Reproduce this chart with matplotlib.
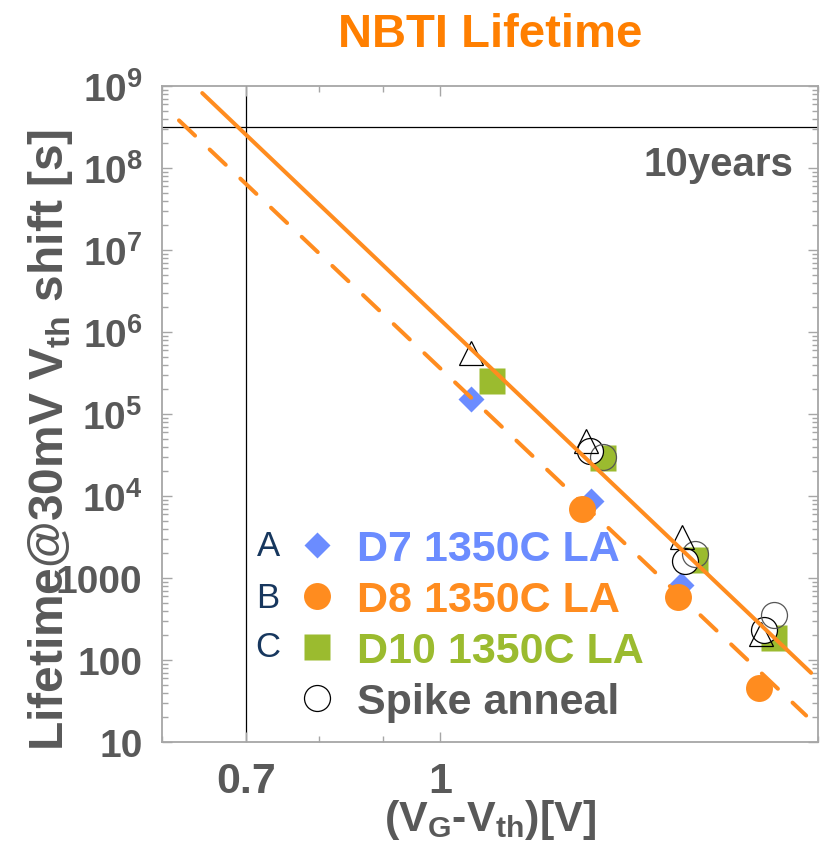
import numpy as np
import matplotlib
matplotlib.use('Agg')
import matplotlib.pyplot as plt
from matplotlib.ticker import LogLocator, NullFormatter, FixedLocator

plt.rcParams['font.family'] = ['Liberation Sans', 'DejaVu Sans']
plt.rcParams['font.weight'] = 'bold'
plt.rcParams['axes.labelweight'] = 'bold'
plt.rcParams['mathtext.fontset'] = 'custom'
plt.rcParams['mathtext.rm'] = 'Liberation Sans:bold'
plt.rcParams['mathtext.it'] = 'Liberation Sans:bold'
plt.rcParams['mathtext.bf'] = 'Liberation Sans:bold'

# ---------------- data ----------------
d7_x = [1.058, 1.318, 1.556]
d7_y = [1.52e5, 8.8e3, 8.3e2]
d8_x = [1.297, 1.547, 1.794]
d8_y = [6.9e3, 5.8e2, 46]
d10_x = [1.099, 1.348, 1.597, 1.846]
d10_y = [2.5e5, 2.9e4, 1.66e3, 184]
tri_x = [1.058, 1.307, 1.557, 1.803]
tri_y = [5.5e5, 4.65e4, 3.16e3, 209]
spike_x = [1.316, 1.566, 1.812]
spike_y = [3.5e4, 1.6e3, 232]
spike2_x = [1.347, 1.596, 1.845]
spike2_y = [3.0e4, 1.95e3, 354]

# power-law fits: y = A * x**n
fit_solid_range = [0.646, 1.975]
fit_solid_A = 1.41e6
fit_solid_n = -14.57
fit_dash_range = [0.619, 1.957]
fit_dash_A = 3.6e5
fit_dash_n = -14.52

ten_years = 3.156e8
ref_vg = 0.7

legend_labels = ['D7 1350C LA', 'D8 1350C LA', 'D10 1350C LA', 'Spike anneal']
legend_letters = ['A', 'B', 'C']
xtick_vals = [0.7, 1.0]
xtick_labels = ['0.7', '1']
xminor_vals = [0.6, 0.8, 0.9, 2.0]
ytick_vals = [10, 100, 1000, 1e4, 1e5, 1e6, 1e7, 1e8, 1e9]
ytick_labels = ['10', '100', '1000', r'$\mathbf{10^{4}}$', r'$\mathbf{10^{5}}$',
                r'$\mathbf{10^{6}}$', r'$\mathbf{10^{7}}$', r'$\mathbf{10^{8}}$',
                r'$\mathbf{10^{9}}$']

# ---------------- style ----------------
BLUE = '#6B8CFF'
ORANGE = '#FF8C1F'
GREEN = '#9BBB2F'
GRAY = '#595959'
NAVY = '#17375E'
SPINE = '#A6A6A6'

fig = plt.figure(figsize=(8.24, 8.54), dpi=100)
ax = fig.add_axes([0.1966, 0.13, 0.7961, 0.7681])
ax.set_xscale('log')
ax.set_yscale('log')
ax.set_xlim(0.6, 2.0)
ax.set_ylim(10, 1e9)

# reference lines
ax.axvline(ref_vg, color='black', lw=0.9, zorder=1)
ax.axhline(ten_years, color='black', lw=0.9, zorder=1)

# markers
h7, = ax.plot(d7_x, d7_y, linestyle='none', marker='D', ms=13.7, color=BLUE,
              mec='none', zorder=2)
h8, = ax.plot(d8_x, d8_y, linestyle='none', marker='o', ms=19.4, color=ORANGE,
              mec='none', zorder=3)
h10, = ax.plot(d10_x, d10_y, linestyle='none', marker='s', ms=19.4, color=GREEN,
               mec='none', zorder=3)
hsp, = ax.plot(spike_x, spike_y, linestyle='none', marker='o', ms=18.7, mfc='white',
               mec='black', mew=0.9, zorder=4)
ax.plot(spike2_x, spike2_y, linestyle='none', marker='o', ms=18.7, mfc='none',
        mec='#555555', mew=0.9, zorder=5)
ax.plot(tri_x, tri_y, linestyle='none', marker='^', ms=17, mfc='none',
        mec='black', mew=0.9, zorder=5)

# fit lines
xs = np.array(fit_solid_range)
ax.plot(xs, fit_solid_A * xs ** fit_solid_n, color=ORANGE, lw=2.9,
        solid_capstyle='round', zorder=6)
xd = np.array(fit_dash_range)
ax.plot(xd, fit_dash_A * xd ** fit_dash_n, color=ORANGE, lw=2.9,
        linestyle=(0, (5.5, 5.0)), dash_capstyle='round', zorder=6)

# ticks
ax.xaxis.set_major_locator(FixedLocator(xtick_vals))
ax.set_xticklabels(xtick_labels)
ax.xaxis.set_minor_locator(FixedLocator(xminor_vals))
ax.xaxis.set_minor_formatter(NullFormatter())
ax.yaxis.set_major_locator(FixedLocator(ytick_vals))
ax.set_yticklabels(ytick_labels)
ax.yaxis.set_minor_locator(LogLocator(base=10, subs=range(2, 10), numticks=30))
ax.yaxis.set_minor_formatter(NullFormatter())

ax.tick_params(which='both', direction='in', top=True, right=True, color=SPINE, width=1.0)
ax.tick_params(which='major', length=7)
ax.tick_params(which='minor', length=4.5)
ax.tick_params(axis='y', labelsize=28, pad=14, labelcolor=GRAY)
ax.tick_params(axis='x', labelsize=31, pad=14, labelcolor=GRAY)
for s in ax.spines.values():
    s.set_color(SPINE)
    s.set_linewidth(1.3)

# labels
ax.set_title('NBTI Lifetime', fontsize=34, color='#FF7F00', fontweight='bold', pad=29)
ax.set_ylabel(r'Lifetime@30mV V$_{th}$ shift [s]', fontsize=34.5, color=GRAY,
              fontweight='bold')
ax.yaxis.set_label_coords(-0.132, 0.462)
ax.set_xlabel(r'(V$_{G}$-V$_{th}$)[V]', fontsize=31, color=GRAY, fontweight='bold')
ax.xaxis.set_label_coords(0.5, -0.084)

ax.text(0.962, 0.864, '10years', transform=ax.transAxes, ha='right', va='baseline',
        fontsize=29, color=GRAY, fontweight='bold')

# legend
leg = ax.legend([h7, h8, h10, hsp], legend_labels, loc='upper left',
                bbox_to_anchor=(0.21, 0.324), frameon=False, fontsize=31,
                handlelength=0.8, handletextpad=0.53, labelspacing=0.25,
                borderpad=0, borderaxespad=0, numpoints=1)
for t, c in zip(leg.get_texts(), [BLUE, ORANGE, GREEN, GRAY]):
    t.set_color(c)

letter_y = [0.299, 0.221, 0.145]
for lt, yy in zip(legend_letters, letter_y):
    ax.text(0.1616, yy, lt, transform=ax.transAxes, ha='center', va='center',
            fontsize=25, fontweight='normal', color=NAVY)

fig.savefig('out.png', dpi=100)
